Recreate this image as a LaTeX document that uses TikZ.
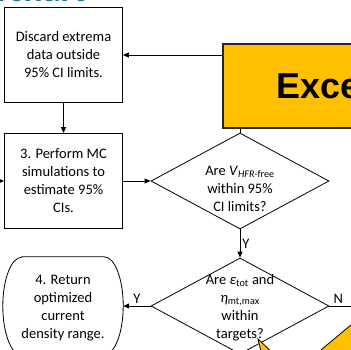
\documentclass[tikz,border=0pt]{standalone}
\usepackage{fontspec}
\setmainfont{Carlito}
\newfontfamily\headfont{Liberation Sans}
\usetikzlibrary{shapes.geometric,arrows.meta}
\definecolor{slideteal}{RGB}{31,119,150}
\definecolor{excelyellow}{RGB}{255,192,0}
\begin{document}
\begin{tikzpicture}[x=1pt,y=1pt,yscale=-1,
  box/.style={draw,line width=0.8pt,minimum width=118pt,minimum height=95pt,align=center,inner sep=0pt,font=\fontsize{14.5}{18}\selectfont},
  decision/.style={draw,diamond,line width=0.8pt,minimum width=178pt,minimum height=96pt,inner sep=0pt},
  txt/.style={align=center,inner sep=0pt,font=\fontsize{14.5}{18}\selectfont},
  arr/.style={line width=0.9pt,-{Triangle[length=6pt,width=5pt]}},
  lbl/.style={font=\fontsize{14.5}{18}\selectfont,inner sep=2pt},
  callout/.style={draw,line width=0.8pt,fill=excelyellow}]
\useasboundingbox (0,0) rectangle (351,349);
\clip (0,0) rectangle (351,349);

% Title Node (cut off at the top)
\node[anchor=base east,text=slideteal,inner sep=0pt,font=\bfseries\fontsize{36}{36}\selectfont] (title) at (86,1) {Flowchart};

%Shape: Rectangle (yellow banner)
\node[draw=black!85,line width=2pt,fill=excelyellow,minimum width=250pt,minimum height=84pt,anchor=north west,inner sep=0pt] (excel) at (222,43) {};
% Text Node
\node[anchor=base west,inner sep=0pt,font=\headfont\bfseries\fontsize{36}{36}\selectfont] (exceltxt) at (276,98) {Excel};

%Shape: Rectangle
\node[box] (discard) at (63.5,55) {Discard extrema\\data outside\\95\% CI limits.};
%Shape: Rectangle
\node[box] (mc) at (63.5,181) {3. Perform MC\\simulations to\\estimate 95\%\\CIs.};

%Shape: Diamond
\node[decision] (vcheck) at (240,181) {};
\node[txt] (vtext) at (240,189) {Are \textit{V}\textsubscript{\textit{HFR}-free}\\within 95\%\\CI limits?};
%Shape: Diamond
\node[decision] (target) at (240,306) {};
\node[txt] (ttext) at (240,308) {Are \textit{ε}\textsubscript{tot} and\\\textit{η}\textsubscript{mt,max}\\within\\targets?};

%Shape: Terminator
\node[txt,minimum width=120pt,minimum height=98pt] (ret) at (63,308) {4. Return\\optimized\\current\\density range.};
\draw[line width=0.8pt] ([xshift=19pt,yshift=-2pt]ret.north west) -- ([xshift=-19pt,yshift=-2pt]ret.north east)
  arc[start angle=-90,end angle=90,x radius=19,y radius=49]
  -- ([xshift=19pt,yshift=-2pt]ret.south west)
  arc[start angle=90,end angle=270,x radius=19,y radius=49] -- cycle;

\coordinate (mcin) at (-10,181);
\coordinate (nout) at (365,306);

%Connectors
\draw[arr] (excel.west |- discard.east) -- (discard.east);
\draw[arr] (discard.south) -- (mc.north);
\draw[arr] (mcin) -- (mc.west);
\draw[arr] (mc.east) -- (vcheck.west);
\draw[line width=0.9pt] (vcheck.north |- excel.south) -- (vcheck.north);
\draw[arr] (vcheck.south) -- node[lbl,right] (ylbl1) {Y} (target.north);
\draw[arr] (target.west) -- node[lbl,above] (ylbl2) {Y} (target.west -| ret.east);
\draw[line width=0.9pt] (target.east) -- node[lbl,above,pos=0.25] (nlbl) {N} (nout);

%Shape: Callouts (cut off at the bottom)
\draw[callout] (258,339) -- (263,360) -- (276,356) -- cycle;
\draw[callout] (316,354) -- (360,317.5) -- (400,400) -- cycle;
\end{tikzpicture}
\end{document}
